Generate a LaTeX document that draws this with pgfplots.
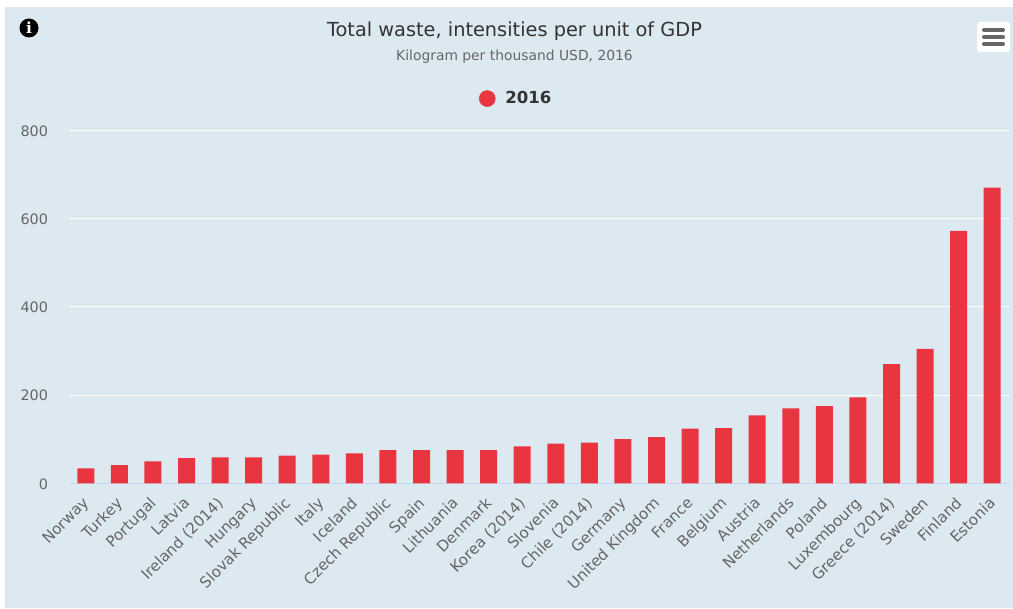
\documentclass[border=0pt]{standalone}
\usepackage{fontspec}
\setmainfont{DejaVu Sans}
\newfontfamily\iconfont{DejaVu Serif}
\usepackage{pgfplots}
\pgfplotsset{compat=1.18}
\usepackage{pgfplotstable}
\definecolor{panel}{RGB}{221,233,241}
\definecolor{barred}{RGB}{233,53,64}
\definecolor{lab}{RGB}{102,102,102}
\definecolor{ttl}{RGB}{51,51,51}
\definecolor{baseline}{RGB}{204,214,235}
\pgfplotstableread{
idx value
0 34
1 41
2 50
3 57
4 59
5 59
6 63
7 65
8 68
9 75
10 75
11 75
12 75
13 84
14 90
15 92
16 100
17 105
18 124
19 125
20 154
21 170
22 175
23 195
24 270
25 305
26 572
27 670
}\wastedata
\begin{document}
\begin{tikzpicture}[x=0.75pt,y=0.75pt]
\useasboundingbox (0,0) rectangle (1013,608);
\fill[white] (0,0) rectangle (1013,608);
\fill[panel] (5,0) rectangle (1013,601);
% info icon and menu button
\fill[black] (29,580) circle (9.5);
\node[text=white,font=\iconfont\bfseries\fontsize{11.5}{12}\selectfont] at (29,580) {i};
\fill[white,rounded corners=2.25pt] (977,556) rectangle (1010,586);
\foreach \yy in {578,571,564}
  \draw[lab,line width=3pt,line cap=round] (984,\yy) -- (1003,\yy);
\node[text=ttl,font=\fontsize{14.5}{16}\selectfont] at (514.5,577) {Total waste, intensities per unit of GDP};
\node[text=lab,font=\fontsize{10.4}{12}\selectfont] at (514.5,551.5) {Kilogram per thousand USD, 2016};
\begin{axis}[
    at={(51.75pt,93.5pt)},
    anchor=south west,
    scale only axis,
    width=705pt,
    height=264.75pt,
    xmin=-0.5, xmax=27.5,
    ymin=0, ymax=800,
    axis x line*=bottom,
    axis y line*=left,
    y axis line style={draw=none},
    x axis line style={-,draw=baseline},
    major tick length=0pt,
    ytick={0,200,400,600,800},
    ymajorgrids,
    major grid style={white,line width=0.75pt},
    xtick=data,
    xticklabels={Norway,Turkey,Portugal,Latvia,Ireland (2014),Hungary,Slovak Republic,Italy,Iceland,Czech Republic,Spain,Lithuania,Denmark,Korea (2014),Slovenia,Chile (2014),Germany,United Kingdom,France,Belgium,Austria,Netherlands,Poland,Luxembourg,Greece (2014),Sweden,Finland,Estonia},
    xticklabel style={rotate=45,anchor=north east,text=lab,font=\fontsize{11.4}{12}\selectfont,inner sep=0pt,xshift=-8.8pt,yshift=-4.3pt},
    yticklabel style={text=lab,font=\fontsize{10.8}{12}\selectfont,inner sep=0pt,xshift=-15.5pt,yshift=-0.5pt},
    /pgf/number format/assume math mode=true,
    legend style={at={(0.4761,1.090)},anchor=center,draw=none,fill=none,font=\fontsize{12.4}{14}\selectfont\bfseries,text=ttl,legend cell align=left,inner sep=0pt},
]
\addplot[ybar,bar width=12.75pt,fill=barred,draw=none,forget plot] table[x=idx,y=value] {\wastedata};
\addlegendimage{legend image code/.code={\fill[barred] (3.4pt,0) circle (6pt); \path (14.8pt,0);}}
\addlegendentry{2016}
\end{axis}
\end{tikzpicture}
\end{document}
